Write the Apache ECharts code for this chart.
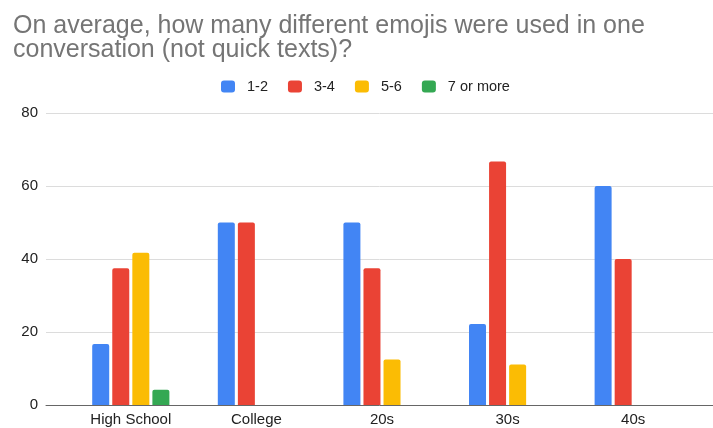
<!DOCTYPE html>
<html>
<head>
<meta charset="utf-8">
<script src="https://cdn.jsdelivr.net/npm/echarts@6/dist/echarts.min.js"></script>
<style>
  html, body { margin: 0; padding: 0; background: #fff; }
  #chart { width: 713px; height: 428px; }
</style>
</head>
<body>
<div id="chart"></div>
<script>
// Survey: distinct emojis per conversation, by age group (percent of respondents)
const categories = ['High School', 'College', '20s', '30s', '40s'];
const seriesNames = ['1-2', '3-4', '5-6', '7 or more'];
const values12 = [16.7, 50, 50, 22.2, 60];
const values34 = [37.5, 50, 37.5, 66.7, 40];
const values56 = [41.7, 0, 12.5, 11.1, 0];
const values7plus = [4.2, 0, 0, 0, 0];
const yTicks = [0, 20, 40, 60, 80];

const colors = ['#4285F4', '#EA4335', '#FBBC04', '#34A853'];
const seriesData = [values12, values34, values56, values7plus];

const font = 'Arial, "Liberation Sans", sans-serif';
const yMin = yTicks[0];
const yMax = yTicks[yTicks.length - 1];
const yStep = yTicks[1] - yTicks[0];

const chart = echarts.init(document.getElementById('chart'), null, { renderer: 'canvas' });

chart.setOption({
  animation: false,
  color: colors,
  title: {
    text: 'On average, how many different emojis were used in one\nconversation (not quick texts)?',
    left: 8,
    top: 9,
    textStyle: {
      fontFamily: font,
      fontSize: 25,
      fontWeight: 'normal',
      color: '#757575',
      lineHeight: 24
    }
  },
  legend: {
    top: 74,
    left: 216,
    itemWidth: 14,
    itemHeight: 12,
    itemGap: 20,
    icon: 'roundRect',
    textStyle: { fontFamily: font, fontSize: 14.5, color: '#222', padding: [0, 0, 0, 7] },
    data: seriesNames
  },
  grid: [
    // full-width frame for gridlines and baseline
    { left: 46, right: 0, top: 113, bottom: 23 },
    // plotting band for the bars
    { left: 68, right: 17, top: 113, bottom: 23 }
  ],
  xAxis: [
    {
      gridIndex: 0, type: 'value', min: 0, max: 1,
      axisLine: { show: true, lineStyle: { color: '#666', width: 1 } },
      axisTick: { show: false }, axisLabel: { show: false }, splitLine: { show: false }
    },
    {
      gridIndex: 1, type: 'category', data: categories,
      axisLine: { show: false }, axisTick: { show: false },
      axisLabel: { fontFamily: font, fontSize: 15, color: '#222', margin: 7 }
    }
  ],
  yAxis: [
    {
      gridIndex: 0, type: 'value', min: yMin, max: yMax, interval: yStep,
      axisLine: { show: false }, axisTick: { show: false },
      axisLabel: { fontFamily: font, fontSize: 15, color: '#222', margin: 8 },
      splitLine: { lineStyle: { color: '#dcdcdc', width: 1 } }
    },
    {
      gridIndex: 1, type: 'value', min: yMin, max: yMax, interval: yStep,
      show: false
    }
  ],
  series: seriesNames.map((name, i) => ({
    name: name,
    type: 'bar',
    xAxisIndex: 1,
    yAxisIndex: 1,
    data: seriesData[i],
    barWidth: 17,
    barGap: '18%',
    itemStyle: { borderRadius: [2, 2, 0, 0] }
  }))
});
</script>
</body>
</html>
